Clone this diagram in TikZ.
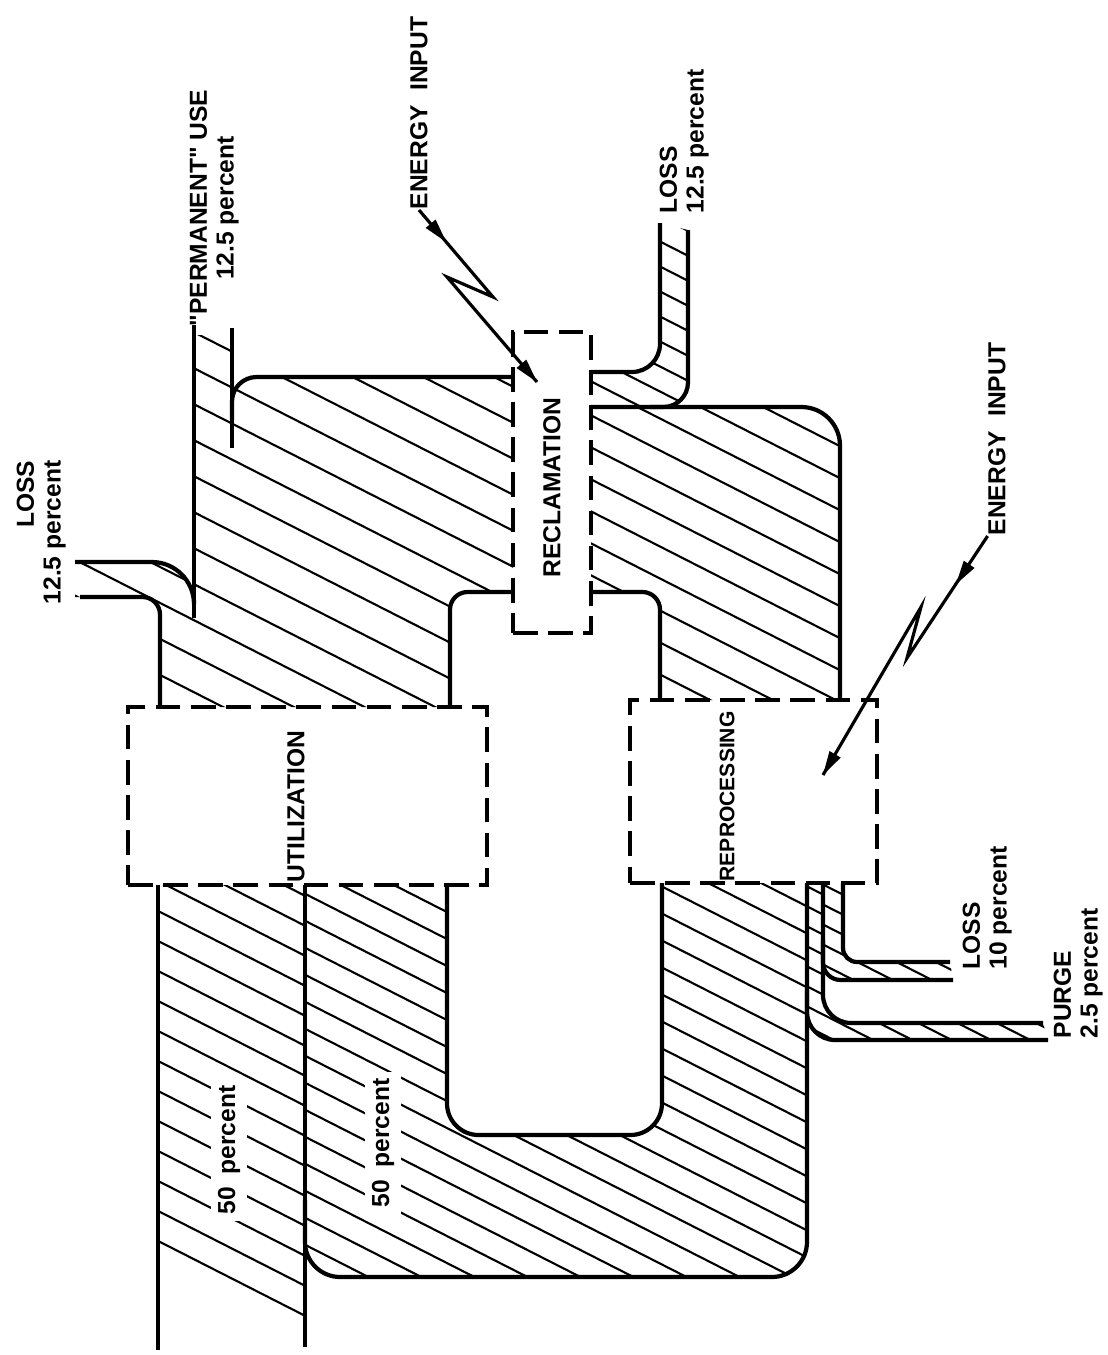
\documentclass[tikz,border=0pt]{standalone}
\usepackage{fontspec}
\setmainfont{Liberation Sans}
\begin{document}
\begin{tikzpicture}[x=0.1mm, y=0.1mm]
\tikzstyle{every node}+=[inner sep=0pt, font=\fontsize{7}{7.6}\selectfont\bfseries]
\tikzstyle{flow}=[black, line width=1.2pt]
\tikzstyle{hatch}=[black, line width=0.6pt]
\tikzstyle{procbox}=[draw=black, line width=1.2pt, dash pattern=on 7pt off 3pt]
\tikzstyle{uptext}=[rotate=90]
\tikzstyle{bolt}=[black, line width=0.9pt]
\useasboundingbox (0,0) rectangle (1107,-1355);
\begin{scope}
\clip (194,-335) -- (232,-335) -- (232,-420) [rounded corners=7pt] -- (232,-377) [sharp corners] -- (513,-377) -- (513,-592) [rounded corners=5pt] -- (450,-592) [sharp corners] -- (450,-707) -- (160,-707) [rounded corners=5pt] -- (160,-597) [sharp corners] -- (75,-597) -- (75,-562) [rounded corners=12pt] -- (194,-562) [sharp corners] -- (194,-604) -- cycle;
\foreach \k in {0,...,100} \draw [hatch] (-50,{620-36*\k}) -- ++(1200,-611);
\end{scope}
\begin{scope}
\clip (158,-885) -- (305,-885) -- (305,-1330) -- (158,-1255) -- cycle;
\foreach \k in {0,...,100} \draw [hatch] (-50,{605-30*\k}) -- ++(1200,-611);
\end{scope}
\begin{scope}
\clip (305,-885) [rounded corners=10pt] -- (305,-1277) -- (807,-1277) [sharp corners] -- (807,-883) -- (662,-883) [rounded corners=9pt] -- (662,-1135) -- (447,-1135) [sharp corners] -- (447,-885) -- cycle;
\foreach \k in {0,...,100} \draw [hatch] (-50,{610-27*\k}) -- ++(1200,-611);
\end{scope}
\begin{scope}
\clip (840,-700) [rounded corners=11pt] -- (840,-407) [sharp corners] -- (591,-407) -- (591,-592) [rounded corners=5pt] -- (660,-592) [sharp corners] -- (660,-700) -- cycle;
\foreach \k in {0,...,100} \draw [hatch] (-50,{615-32*\k}) -- ++(1200,-611);
\end{scope}
\begin{scope}
\clip (591,-372) [rounded corners=8pt] -- (660,-372) [sharp corners] -- (660,-223) -- (688,-230) [rounded corners=7pt] -- (688,-407) [sharp corners] -- (591,-407) -- cycle;
\foreach \k in {0,...,100} \draw [hatch] (-50,{620-25*\k}) -- ++(1200,-611);
\end{scope}
\begin{scope}
\clip (823,-883) -- (843,-883) [rounded corners=4pt] -- (843,-962) [sharp corners] -- (950,-962) -- (953,-980) [rounded corners=5pt] -- (823,-980) [sharp corners] -- cycle;
\foreach \k in {0,...,100} \draw [hatch] (-50,{620-20*\k}) -- ++(1200,-611);
\end{scope}
\begin{scope}
\clip (807,-883) -- (823,-883) [rounded corners=8pt] -- (823,-1023) [sharp corners] -- (1043,-1023) -- (1048,-1040) [rounded corners=8pt] -- (807,-1040) [sharp corners] -- cycle;
\foreach \k in {0,...,100} \draw [hatch] (-50,{630-20*\k}) -- ++(1200,-611);
\end{scope}
\draw [flow] (194,-325) -- (194,-618);
\draw [flow] (232,-328) -- (232,-448);
\draw [flow, rounded corners=7pt] (232,-420) -- (232,-377) -- (513,-377);
\draw [flow, rounded corners=12pt] (75,-562) -- (194,-562) -- (194,-600);
\draw [flow, rounded corners=5pt] (80,-597) -- (160,-597) -- (160,-707);
\draw [flow, rounded corners=5pt] (513,-592) -- (450,-592) -- (450,-707);
\draw [flow] (158,-885) -- (158,-1350);
\draw [flow] (305,-885) -- (305,-1347);
\draw [flow, rounded corners=10pt] (305,-1200) -- (305,-1277) -- (807,-1277) -- (807,-883);
\draw [flow, rounded corners=9pt] (447,-885) -- (447,-1135) -- (662,-1135) -- (662,-883);
\draw [flow, rounded corners=11pt] (840,-700) -- (840,-407) -- (591,-407);
\draw [flow, rounded corners=5pt] (660,-700) -- (660,-592) -- (591,-592);
\draw [flow, rounded corners=8pt] (591,-372) -- (660,-372) -- (660,-223);
\draw [flow, rounded corners=7pt] (650,-407) -- (688,-407) -- (688,-230);
\draw [flow, rounded corners=4pt] (843,-883) -- (843,-962) -- (950,-962);
\draw [flow, rounded corners=5pt] (823,-940) -- (823,-980) -- (953,-980);
\draw [flow, rounded corners=8pt] (823,-883) -- (823,-1023) -- (1043,-1023);
\draw [flow, rounded corners=8pt] (807,-990) -- (807,-1040) -- (1048,-1040);
\node [procbox, minimum width=3.59cm, minimum height=1.78cm] (util) at (307.5,-796) {};
\node [procbox, minimum width=0.78cm, minimum height=3.01cm] (recl) at (552,-482.5) {};
\node [procbox, minimum width=2.47cm, minimum height=1.83cm] (repr) at (753.5,-791.5) {};
\node [uptext, anchor=west] (utilname) at (296,-883) {UTILIZATION};
\node [uptext, anchor=west] (reclname) at (552,-578) {RECLAMATION};
\node [uptext, anchor=west, font=\fontsize{6}{7}\selectfont\bfseries] (reprname) at (727,-882) {REPROCESSING};
\node [uptext, anchor=north east, align=right] (losstl) at (16,-460) {LOSS\\12.5 percent};
\node [uptext, anchor=north, align=center] (permuse) at (189,-208) {\textquotedbl PERMANENT\textquotedbl{} USE\\12.5 percent};
\node [uptext, anchor=north west, align=left] (lossrc) at (659,-214) {LOSS\\12.5 percent};
\node [uptext, anchor=north west, align=left] (lossrp) at (962,-970) {LOSS\\10 percent};
\node [uptext, anchor=north west, align=left] (purge) at (1053,-1039) {PURGE\\2.5 percent};
\node [uptext, fill=white, inner sep=2pt] (halfout) at (229,-1150) {50\hspace{0.5em}percent};
\node [uptext, fill=white, inner sep=2pt] (halfback) at (383,-1143) {50\hspace{0.5em}percent};
\node [uptext, anchor=west] (einput1) at (419,-210) {ENERGY\hspace{0.6em}INPUT};
\node [uptext, anchor=west] (einput2) at (997,-536) {ENERGY\hspace{0.6em}INPUT};
\coordinate (b1a) at (493,-297);
\coordinate (b1b) at (447,-277);
\coordinate (b1tip) at (537,-382);
\draw [bolt] (einput1.west) -- (b1a) -- (b1b) -- (b1tip);
\fill [black] (446.2,-242.0) -- (435.6,-219.5) -- (425.7,-227.9);
\fill [black] (537,-382) -- (526.3,-359.6) -- (516.5,-368.0);
\coordinate (b2a) at (907,-658);
\coordinate (b2b) at (921,-607);
\coordinate (b2tip) at (823,-775);
\draw [bolt] (einput2.north west) -- (b2a) -- (b2b) -- (b2tip);
\fill [black] (955.9,-584.3) -- (974.6,-567.9) -- (963.8,-560.7);
\fill [black] (823,-775) -- (840.7,-757.6) -- (829.5,-751.0);
\end{tikzpicture}
\end{document}
